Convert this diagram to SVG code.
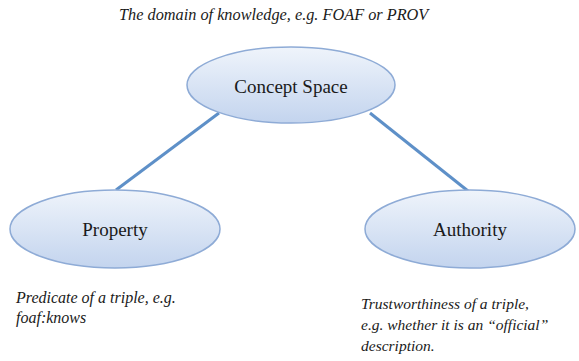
<svg xmlns="http://www.w3.org/2000/svg" width="579" height="361" viewBox="0 0 579 361">
  <defs>
    <linearGradient id="nodeFill" x1="0" y1="0" x2="0" y2="1">
      <stop offset="0" stop-color="#eff4fb"/>
      <stop offset="1" stop-color="#c3d4ee"/>
    </linearGradient>
  </defs>
  <style>
    .node { fill: url(#nodeFill); stroke: #8eabd6; stroke-width: 1.5; }
    .label { font-family: "Liberation Serif", "Times New Roman", serif; font-size: 19px; fill: #1a1a1a; text-anchor: middle; }
    .note { font-family: "Liberation Serif", "Times New Roman", serif; font-style: italic; fill: #1a1a1a; }
    .edge { stroke: #5e90c8; stroke-width: 3; fill: none; }
  </style>
  <rect width="579" height="361" fill="#ffffff"/>

  <text class="note" x="119" y="20" font-size="16.3">The domain of knowledge, e.g. FOAF or PROV</text>

  <g id="connectors">
    <line class="edge" x1="219" y1="113" x2="116" y2="190"/>
    <line class="edge" x1="370" y1="113" x2="468" y2="191"/>
  </g>

  <g id="concept-space">
    <ellipse class="node" cx="291" cy="85" rx="104" ry="38"/>
    <text class="label" x="291" y="93">Concept Space</text>
  </g>

  <g id="property">
    <ellipse class="node" cx="115" cy="229" rx="105" ry="39"/>
    <text class="label" x="115" y="236">Property</text>
  </g>

  <g id="authority">
    <ellipse class="node" cx="470" cy="229" rx="105" ry="39"/>
    <text class="label" x="470" y="236">Authority</text>
  </g>

  <text class="note" x="16" y="303" font-size="16">Predicate of a triple, e.g.</text>
  <text class="note" x="16" y="323" font-size="16">foaf:knows</text>

  <text class="note" x="361" y="309" font-size="15.5">Trustworthiness of a triple,</text>
  <text class="note" x="361" y="330" font-size="15.5">e.g. whether it is an “official”</text>
  <text class="note" x="361" y="351" font-size="15.5">description.</text>
</svg>
